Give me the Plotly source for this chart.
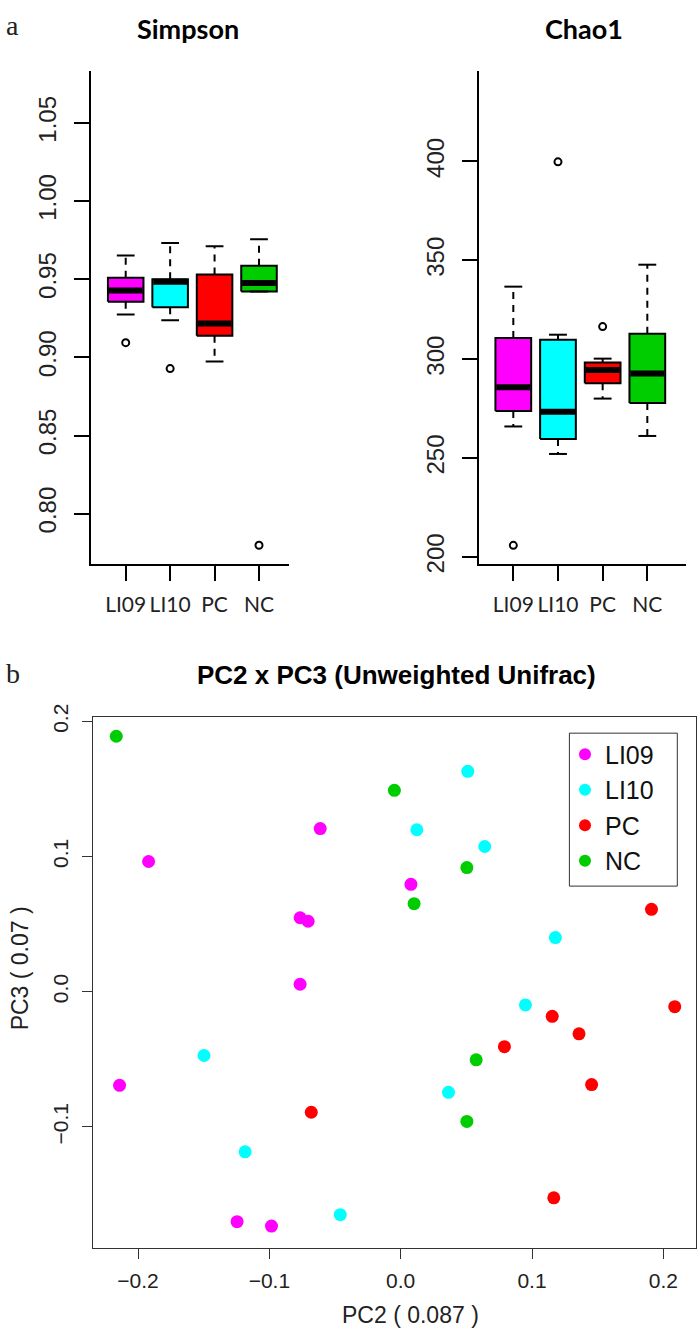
import plotly.graph_objects as go

# ---------------- data ----------------
groups = ["LI09", "LI10", "PC", "NC"]
colors = ["#FF00FF", "#00FFFF", "#FF0000", "#00CD00"]

# Simpson boxplot statistics (lower whisker, Q1, median, Q3, upper whisker, outliers)
simpson_lo = [0.9274, 0.9238, 0.8974, 0.9421]
simpson_q1 = [0.9355, 0.9320, 0.9138, 0.9421]
simpson_med = [0.9427, 0.9484, 0.9217, 0.9475]
simpson_q3 = [0.9509, 0.9500, 0.9530, 0.9586]
simpson_hi = [0.9652, 0.9732, 0.9711, 0.9755]
simpson_out = [[0.9094], [0.8928], [], [0.7798]]
simpson_ticks = [0.80, 0.85, 0.90, 0.95, 1.00, 1.05]
simpson_ticktext = ["0.80", "0.85", "0.90", "0.95", "1.00", "1.05"]

# Chao1 boxplot statistics
chao_lo = [266.0, 252.1, 280.1, 261.2]
chao_q1 = [273.8, 259.7, 287.8, 277.9]
chao_med = [285.8, 273.4, 294.5, 292.8]
chao_q3 = [310.7, 309.9, 298.4, 312.9]
chao_hi = [336.7, 312.4, 300.3, 347.8]
chao_out = [[205.9], [399.8], [316.5], []]
chao_ticks = [200, 250, 300, 350, 400]

# PCoA scores (PC2, PC3)
li09_pc2 = [-0.192, -0.0613, 0.0078, -0.0766, -0.0705, -0.0766, -0.2141, -0.1246, -0.0984]
li09_pc3 = [0.0963, 0.1207, 0.0794, 0.0547, 0.0521, 0.0055, -0.0693, -0.1702, -0.1734]
li10_pc2 = [0.0511, 0.0123, 0.064, 0.1178, 0.095, -0.1498, 0.0364, -0.1185, -0.046]
li10_pc3 = [0.163, 0.1198, 0.1074, 0.04, -0.0098, -0.0472, -0.0745, -0.1185, -0.165]
pc_pc2 = [0.191, 0.2087, 0.1154, 0.1358, 0.079, 0.1454, -0.0681, 0.1166]
pc_pc3 = [0.0609, -0.0111, -0.0182, -0.0312, -0.0407, -0.0687, -0.0892, -0.1525]
nc_pc2 = [-0.2166, -0.0048, 0.0504, 0.0102, 0.0575, 0.0504]
nc_pc3 = [0.189, 0.149, 0.0918, 0.0651, -0.0504, -0.096]
pc_ticks = [-0.2, -0.1, 0.0, 0.1, 0.2]

# ---------------- styling ----------------
W, H = 700, 1344
BOXW = 0.4      # half box width (x units)
CAPW = 0.2      # half staple width
SANS = "Liberation Sans, Arial, sans-serif"
LABF = "Lato, Liberation Sans, sans-serif"
SERIF = "Liberation Serif, serif"


def fx(p):
    return p / W


def fy(p):
    return 1 - p / H


fig = go.Figure()


def add_boxplot(xa, ya, lo, q1, med, q3, hi, outs):
    for i in range(len(groups)):
        c = i + 1
        # box
        fig.add_trace(go.Scatter(
            x=[c - BOXW, c + BOXW, c + BOXW, c - BOXW, c - BOXW],
            y=[q1[i], q1[i], q3[i], q3[i], q1[i]],
            mode="lines", fill="toself", fillcolor=colors[i],
            line=dict(color="black", width=2), xaxis=xa, yaxis=ya,
            showlegend=False, hoverinfo="skip"))
        # median
        fig.add_trace(go.Scatter(
            x=[c - BOXW + 0.02, c + BOXW - 0.02], y=[med[i], med[i]],
            mode="lines", line=dict(color="black", width=6),
            xaxis=xa, yaxis=ya, showlegend=False, hoverinfo="skip"))
        # whiskers (dashed)
        for a, b in ((q3[i], hi[i]), (q1[i], lo[i])):
            if abs(a - b) > 1e-12:
                fig.add_trace(go.Scatter(
                    x=[c, c], y=[a, b], mode="lines",
                    line=dict(color="black", width=2, dash="7px,6px"),
                    xaxis=xa, yaxis=ya, showlegend=False, hoverinfo="skip"))
        # staples
        for v in (hi[i], lo[i]):
            fig.add_trace(go.Scatter(
                x=[c - CAPW, c + CAPW], y=[v, v], mode="lines",
                line=dict(color="black", width=2),
                xaxis=xa, yaxis=ya, showlegend=False, hoverinfo="skip"))
        # outliers
        if outs[i]:
            fig.add_trace(go.Scatter(
                x=[c] * len(outs[i]), y=outs[i], mode="markers",
                marker=dict(symbol="circle-open", size=7, color="black",
                            line=dict(width=2, color="black")),
                xaxis=xa, yaxis=ya, showlegend=False, hoverinfo="skip"))


add_boxplot("x", "y", simpson_lo, simpson_q1, simpson_med, simpson_q3, simpson_hi, simpson_out)
add_boxplot("x2", "y2", chao_lo, chao_q1, chao_med, chao_q3, chao_hi, chao_out)

pts = [(li09_pc2, li09_pc3), (li10_pc2, li10_pc3), (pc_pc2, pc_pc3), (nc_pc2, nc_pc3)]
for i, (xs, ys) in enumerate(pts):
    fig.add_trace(go.Scatter(
        x=xs, y=ys, mode="markers", name=groups[i], legendgroup=groups[i],
        marker=dict(size=13, color=colors[i]), xaxis="x3", yaxis="y3"))

box_x_common = dict(
    tickmode="array", tickvals=[1, 2, 3, 4], ticktext=groups,
    ticks="outside", ticklen=15, tickwidth=2, tickcolor="black",
    showline=True, linewidth=2, linecolor="black", showgrid=False, zeroline=False,
    tickfont=dict(family=LABF, size=21, color="#222"), ticklabelstandoff=6,
)
box_y_common = dict(
    ticks="outside", ticklen=15, tickwidth=2, tickcolor="black", tickangle=-90,
    showline=True, linewidth=2, linecolor="black", showgrid=False, zeroline=False,
    tickfont=dict(family=SANS, size=24, color="#222"), ticklabelstandoff=8,
)
sc_common = dict(
    ticks="outside", ticklen=10, tickwidth=1, tickcolor="#333",
    showline=True, linewidth=1, linecolor="#333", mirror=True,
    showgrid=False, zeroline=False,
    tickfont=dict(family=SANS, size=21, color="#222"),
)

fig.update_layout(
    width=W, height=H, margin=dict(l=0, r=0, t=0, b=0),
    paper_bgcolor="white", plot_bgcolor="white",
    xaxis=dict(domain=[fx(90.7), fx(289.3)], range=[0.212, 4.682], anchor="y", **box_x_common),
    yaxis=dict(domain=[fy(560.3), fy(59.3)], range=[0.768, 1.083], anchor="x",
               tickmode="array", tickvals=simpson_ticks, ticktext=simpson_ticktext, **box_y_common),
    xaxis2=dict(domain=[fx(479), fx(686)], range=[0.232, 4.866], anchor="y2", **box_x_common),
    yaxis2=dict(domain=[fy(560.3), fy(59.3)], range=[196.6, 445.6], anchor="x2",
                tickmode="array", tickvals=chao_ticks, **box_y_common),
    xaxis3=dict(domain=[fx(93.3), fx(696)], range=[-0.2341, 0.2249], anchor="y3",
                tickmode="array", tickvals=pc_ticks, tickformat=".1f", ticklabelstandoff=4, **sc_common),
    yaxis3=dict(domain=[fy(1256.3), fy(716.3)], range=[-0.1895, 0.2032], anchor="x3",
                tickmode="array", tickvals=pc_ticks[1:], tickformat=".1f", tickangle=-90,
                ticklabelstandoff=6, **sc_common),
    legend=dict(x=fx(565), xanchor="left", y=fy(731), yanchor="top",
                borderwidth=0, bgcolor="rgba(0,0,0,0)",
                font=dict(family=SANS, size=25, color="#111"),
                traceorder="grouped", tracegroupgap=0, itemsizing="constant"),
    showlegend=True,
    shapes=[
        dict(type="rect", xref="paper", yref="paper",
             x0=fx(569.4), x1=fx(677.3), y0=fy(888.3), y1=fy(732.7),
             line=dict(color="#333", width=1), fillcolor="white", layer="below"),
    ],
    annotations=[
        dict(text="a", x=fx(4), y=fy(13), xref="paper", yref="paper", showarrow=False,
             xanchor="left", yanchor="middle", font=dict(family=SERIF, size=28, color="#222")),
        dict(text="<b>Simpson</b>", x=fx(188), y=fy(16), xref="paper", yref="paper", showarrow=False,
             xanchor="center", yanchor="middle", font=dict(family=LABF, size=27, color="black")),
        dict(text="<b>Chao1</b>", x=fx(584), y=fy(16), xref="paper", yref="paper", showarrow=False,
             xanchor="center", yanchor="middle", font=dict(family=LABF, size=27, color="black")),
        dict(text="b", x=fx(4), y=fy(672), xref="paper", yref="paper", showarrow=False,
             xanchor="left", yanchor="middle", font=dict(family=SERIF, size=28, color="#222")),
        dict(text="<b>PC2 x PC3 (Unweighted Unifrac)</b>", x=fx(396), y=fy(674), xref="paper",
             yref="paper", showarrow=False, xanchor="center", yanchor="middle",
             font=dict(family=SANS, size=26, color="black")),
        dict(text="PC2 ( 0.087 )", x=fx(410), y=fy(1325), xref="paper", yref="paper",
             showarrow=False, xanchor="center", yanchor="middle",
             font=dict(family=SANS, size=23, color="#222")),
        dict(text="PC3 ( 0.07 )", x=fx(20), y=fy(972), xref="paper", yref="paper",
             showarrow=False, xanchor="center", yanchor="middle", textangle=-90,
             font=dict(family=SANS, size=23, color="#222")),
    ],
)

fig.write_html("out.html", config={"displayModeBar": False},
               post_script="document.body.style.margin='0';document.body.style.overflow='hidden';")
